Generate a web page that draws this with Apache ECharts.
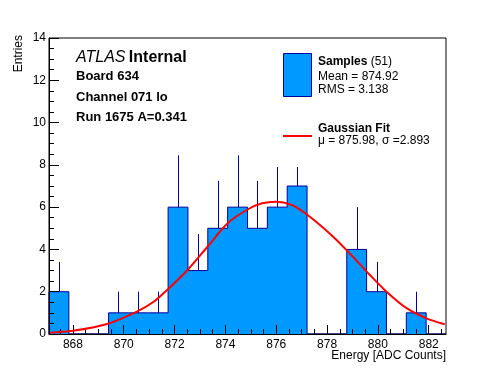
<!DOCTYPE html>
<html>
<head>
<meta charset="utf-8">
<script src="https://cdn.jsdelivr.net/npm/echarts@6/dist/echarts.min.js"></script>
<style>html,body{margin:0;padding:0;background:#fff}#c{width:496px;height:372px}</style>
</head>
<body>
<div id="c"></div>
<script>
// Histogram definition
const xMin = 867.06;
const binWidth = 0.781;
const counts = [2, 0, 0, 1, 1, 1, 6, 3, 5, 6, 5, 6, 7, 0, 0, 4, 2, 0, 1, 0];
const errTop = [3.41, 0, 0, 2, 2, 2, 8.45, 4.73, 7.24, 8.45, 7.24, 7.9, 7.9, 0, 0, 6.0, 3.41, 0, 2, 0];
// Gaussian fit curve
const fitX = [867.1, 868.0, 869.31, 870.5, 871.15, 871.74, 872.53, 873.31, 874.1, 874.89, 875.45, 875.98, 876.6, 877.21, 878.24, 879.02, 879.68, 880.34, 881.13, 881.91, 882.63];
const fitY = [0.06, 0.15, 0.46, 1.05, 1.5, 2.12, 3.05, 4.15, 5.25, 5.9, 6.18, 6.26, 6.11, 5.65, 4.6, 3.65, 2.8, 2.0, 1.22, 0.74, 0.46];
// Axis ticks
const xMajorTicks = [868, 870, 872, 874, 876, 878, 880, 882];
const xMinorTicks = [867.5, 868.5, 869, 869.5, 870.5, 871, 871.5, 872.5, 873, 873.5, 874.5, 875, 875.5, 876.5, 877, 877.5, 878.5, 879, 879.5, 880.5, 881, 881.5, 882.5];
const yMax = 14, yInterval = 2;

const nBins = counts.length;
const xMax = xMin + nBins * binWidth;
const FONT = 'Liberation Sans, Arial, Helvetica, sans-serif';

const outline = [[xMin, 0]];
counts.forEach((c, i) => {
  outline.push([xMin + i * binWidth, c]);
  outline.push([xMin + (i + 1) * binWidth, c]);
});
outline.push([xMax, 0]);
const errData = counts.map((c, i) => [xMin + (i + 0.5) * binWidth, c, errTop[i]]).filter(d => d[1] > 0);
const fitData = fitX.map((x, i) => [x, fitY[i]]);

const chart = echarts.init(document.getElementById('c'), null, {renderer: 'canvas'});
chart.setOption({
  animation: false,
  backgroundColor: '#fff',
  grid: {left: 49, right: 50, top: 38, bottom: 38, show: true, borderColor: '#000', borderWidth: 1, backgroundColor: 'transparent'},
  xAxis: [{
    type: 'value', min: xMin, max: xMax, z: 5,
    axisLine: {show: true, onZero: false, lineStyle: {color: '#000', width: 1}},
    axisTick: {show: true, inside: true, length: 9, lineStyle: {color: '#000'}, customValues: xMajorTicks},
    axisLabel: {show: true, color: '#000', fontFamily: FONT, fontSize: 12, margin: 5, customValues: xMajorTicks},
    splitLine: {show: false}
  }, {
    type: 'value', min: xMin, max: xMax, position: 'bottom', z: 5,
    axisLine: {show: false},
    axisTick: {show: true, inside: true, length: 5, lineStyle: {color: '#000'}, customValues: xMinorTicks},
    axisLabel: {show: false, customValues: xMinorTicks},
    splitLine: {show: false}
  }],
  yAxis: {
    type: 'value', min: 0, max: yMax, interval: yInterval, z: 5,
    axisLine: {show: true, lineStyle: {color: '#000', width: 1}},
    axisTick: {show: true, inside: true, length: 10, lineStyle: {color: '#000'}},
    minorTick: {show: true, splitNumber: 4, length: 5, lineStyle: {color: '#000'}},
    axisLabel: {color: '#000', fontFamily: FONT, fontSize: 12, margin: 3},
    splitLine: {show: false}
  },
  series: [{
    type: 'line', z: 1, xAxisIndex: 0,
    data: outline, symbol: 'none', showSymbol: false,
    lineStyle: {color: '#000099', width: 1},
    areaStyle: {color: '#0099ff', opacity: 1, origin: 'start'}
  }, {
    type: 'custom', z: 2, xAxisIndex: 0,
    data: errData,
    encode: {x: 0, y: [1, 2]},
    renderItem: (params, api) => {
      const a = api.coord([api.value(0), api.value(1)]);
      const b = api.coord([api.value(0), api.value(2)]);
      return {type: 'line', shape: {x1: Math.round(a[0]) + 0.5, y1: a[1], x2: Math.round(b[0]) + 0.5, y2: b[1]}, style: {stroke: '#000099', lineWidth: 1}};
    }
  }, {
    type: 'line', z: 6, xAxisIndex: 0,
    data: fitData, smooth: 0.3, symbol: 'none', showSymbol: false,
    lineStyle: {color: '#ff0000', width: 2}
  }],
  graphic: [
    {type: 'text', x: 19, y: 35, rotation: Math.PI / 2, style: {text: 'Entries', fill: '#000', font: '12px ' + FONT, align: 'right', verticalAlign: 'middle'}},
    {type: 'text', x: 446, y: 356, style: {text: 'Energy [ADC Counts]', fill: '#000', font: '12px ' + FONT, align: 'right', verticalAlign: 'middle'}},
    {type: 'text', x: 76, y: 58, style: {text: '{i|ATLAS} {b|Internal}', fill: '#000', verticalAlign: 'middle', rich: {
      i: {fontStyle: 'italic', fontSize: 16, fontFamily: FONT, fill: '#000'},
      b: {fontWeight: 'bold', fontSize: 16, fontFamily: FONT, fill: '#000'}}}},
    {type: 'text', x: 76, y: 76, style: {text: 'Board 634', fill: '#000', font: 'bold 13px ' + FONT, verticalAlign: 'middle'}},
    {type: 'text', x: 76, y: 97, style: {text: 'Channel 071 lo', fill: '#000', font: 'bold 13px ' + FONT, verticalAlign: 'middle'}},
    {type: 'text', x: 76, y: 117, style: {text: 'Run 1675 A=0.341', fill: '#000', font: 'bold 13px ' + FONT, verticalAlign: 'middle'}},
    {type: 'rect', shape: {x: 283.5, y: 53.5, width: 28, height: 43}, style: {fill: '#0099ff', stroke: '#000099', lineWidth: 1}},
    {type: 'text', x: 318, y: 62, style: {text: '{b|Samples} {n|(51)}', verticalAlign: 'middle', rich: {
      b: {fontWeight: 'bold', fontSize: 12, fontFamily: FONT, fill: '#000'},
      n: {fontSize: 12, fontFamily: FONT, fill: '#000'}}}},
    {type: 'text', x: 318, y: 77, style: {text: 'Mean = 874.92', fill: '#000', font: '12px ' + FONT, verticalAlign: 'middle'}},
    {type: 'text', x: 318, y: 90, style: {text: 'RMS = 3.138', fill: '#000', font: '12px ' + FONT, verticalAlign: 'middle'}},
    {type: 'line', shape: {x1: 283, y1: 136, x2: 312, y2: 136}, style: {stroke: '#ff0000', lineWidth: 2}},
    {type: 'text', x: 318, y: 129, style: {text: 'Gaussian Fit', fill: '#000', font: 'bold 12px ' + FONT, verticalAlign: 'middle'}},
    {type: 'text', x: 318, y: 141, style: {text: 'μ = 875.98, σ =2.893', fill: '#000', font: '12px ' + FONT, verticalAlign: 'middle'}}
  ]
});
</script>
</body>
</html>
